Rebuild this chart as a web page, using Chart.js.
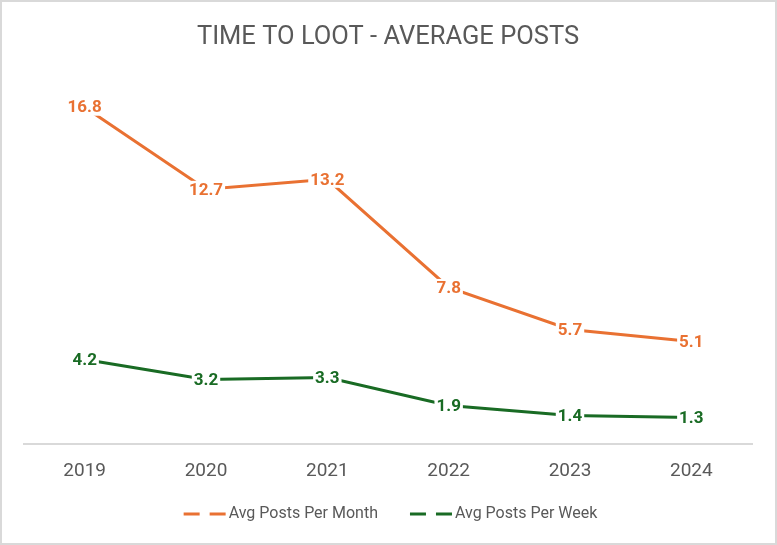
<!DOCTYPE html>
<html>
<head>
<meta charset="utf-8">
<title>Time to Loot - Average Posts</title>
<script src="https://cdn.jsdelivr.net/npm/chart.js@4.4.1/dist/chart.umd.min.js"></script>
<style>
  html, body { margin: 0; padding: 0; background: #fff; }
  #frame { width: 777px; height: 545px; box-sizing: border-box; border: 2px solid #d9d9d9; }
  #wrap { position: relative; width: 773px; height: 541px; }
</style>
</head>
<body>
<div id="frame"><div id="wrap"><canvas id="postsChart"></canvas></div></div>
<script>
// Data
const years = ["2019", "2020", "2021", "2022", "2023", "2024"];
const postsPerMonth = [16.8, 12.7, 13.2, 7.8, 5.7, 5.1];
const postsPerWeek = [4.2, 3.2, 3.3, 1.9, 1.4, 1.3];
const seriesNames = ["Avg Posts Per Month", "Avg Posts Per Week"];
const seriesColors = ["#E97132", "#196B24"];

const textGray = "#595959";
const fontFamily = "Roboto, 'Liberation Sans', sans-serif";

//Value labels centred on each point, on a white box that hides the line
const valueLabels = {
  id: "valueLabels",
  afterDatasetsDraw(chart) {
    const ctx = chart.ctx;
    ctx.save();
    ctx.font = "bold 17px " + fontFamily;
    ctx.textAlign = "center";
    ctx.textBaseline = "middle";
    chart.data.datasets.forEach((ds, i) => {
      chart.getDatasetMeta(i).data.forEach((pt, j) => {
        const txt = ds.data[j].toFixed(1);
        const w = ctx.measureText(txt).width + 4;
        ctx.fillStyle = "#fff";
        ctx.fillRect(pt.x - w / 2, pt.y - 8.5, w, 17);
        ctx.fillStyle = ds.borderColor;
        ctx.fillText(txt, pt.x, pt.y + 1);
      });
    });
    ctx.restore();
  },
};

//Excel-like legend with dashed line symbols
const dashLegend = {
  id: "dashLegend",
  afterDraw(chart) {
    const ctx = chart.ctx;
    ctx.save();
    ctx.font = "16px " + fontFamily;
    const sym = 42, gap = 3, between = 32;
    const items = chart.data.datasets.map((ds) => ({
      text: ds.label,
      color: ds.borderColor,
      w: ctx.measureText(ds.label).width,
    }));
    const total = items.reduce((s, it) => s + sym + gap + it.w, 0) + between * (items.length - 1);
    let x = chart.width / 2 - total / 2 + 2;
    const y = chart.height - 29;
    items.forEach((it) => {
      ctx.strokeStyle = it.color;
      ctx.lineWidth = 3;
      ctx.setLineDash([16, 10]);
      ctx.beginPath();
      ctx.moveTo(x, y);
      ctx.lineTo(x + sym, y);
      ctx.stroke();
      ctx.setLineDash([]);
      ctx.fillStyle = textGray;
      ctx.textAlign = "left";
      ctx.textBaseline = "middle";
      ctx.fillText(it.text, x + sym + gap, y);
      x += sym + gap + it.w + between;
    });
    ctx.restore();
  },
};

new Chart(document.getElementById("postsChart"), {
  type: "line",
  data: {
    labels: years,
    datasets: [
      {
        label: seriesNames[0],
        data: postsPerMonth,
        borderColor: seriesColors[0],
        backgroundColor: seriesColors[0],
        borderWidth: 3,
        pointRadius: 0,
        tension: 0,
      },
      {
        label: seriesNames[1],
        data: postsPerWeek,
        borderColor: seriesColors[1],
        backgroundColor: seriesColors[1],
        borderWidth: 3,
        pointRadius: 0,
        tension: 0,
      },
    ],
  },
  options: {
    responsive: true,
    maintainAspectRatio: false,
    animation: false,
    layout: { padding: { left: 22, right: 23, top: 0, bottom: 43.8 } },
    plugins: {
      legend: { display: false },
      tooltip: { enabled: false },
      title: {
        display: true,
        text: "TIME TO LOOT - AVERAGE POSTS",
        color: textGray,
        font: { family: fontFamily, size: 25.5, weight: "normal" },
        padding: { top: 20, bottom: 30.6 },
      },
    },
    scales: {
      x: {
        offset: true,
        grid: { display: false, drawTicks: false, tickLength: 0 },
        border: { display: true, color: "#d9d9d9", width: 2 },
        ticks: {
          color: textGray,
          font: { family: fontFamily, size: 19 },
          padding: 16.4,
        },
      },
      y: {
        display: false,
        min: 0,
        max: 18,
      },
    },
  },
  plugins: [valueLabels, dashLegend],
});
</script>
</body>
</html>
